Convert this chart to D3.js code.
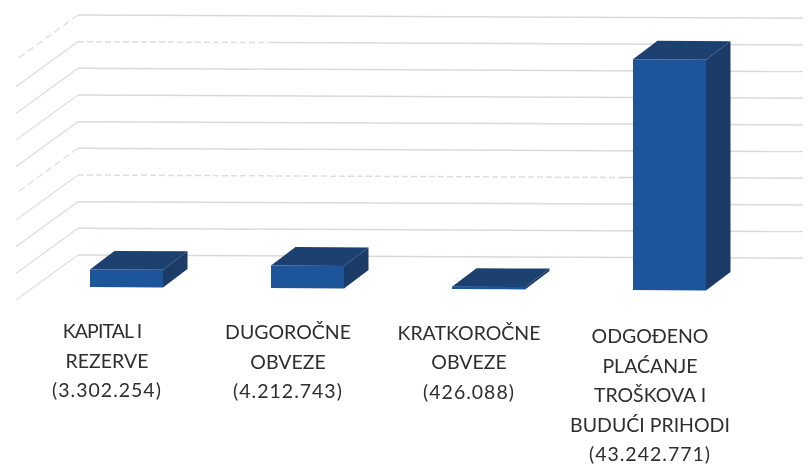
<!DOCTYPE html>
<html><head><meta charset="utf-8">
<script src="https://cdn.jsdelivr.net/npm/d3@7"></script>
<style>html,body{margin:0;padding:0;background:#fff}svg{display:block}</style>
</head><body><svg id="c" width="808" height="466"></svg>
<script>
const categories = ["KAPITAL I REZERVE","DUGOROČNE OBVEZE","KRATKOROČNE OBVEZE","ODGOĐENO PLAĆANJE TROŠKOVA I BUDUĆI PRIHODI"];
const values = [3302254, 4212743, 426088, 43242771];
const labelLines = [
  ["KAPITAL I","REZERVE","(3.302.254)"],
  ["DUGOROČNE","OBVEZE","(4.212.743)"],
  ["KRATKOROČNE","OBVEZE","(426.088)"],
  ["ODGOĐENO","PLAĆANJE","TROŠKOVA I","BUDUĆI PRIHODI","(43.242.771)"]
];
const gridTicks = [0,5e6,10e6,15e6,20e6,25e6,30e6,35e6,40e6,45e6];
const dashedBack = {15e6:620, 40e6:270};
const dashedSide = [20e6, 45e6];

const svg = d3.select("#c");
const defs = svg.append("defs");
defs.append("filter").attr("id","scan").attr("x","-5%").attr("y","-5%").attr("width","110%").attr("height","110%")
  .append("feGaussianBlur").attr("stdDeviation",0.45);
defs.append("filter").attr("id","scanText").attr("x","-5%").attr("y","-5%").attr("width","110%").attr("height","110%")
  .append("feGaussianBlur").attr("stdDeviation",0.3);
const W = 803, backX = 78, sideDx = -62, sideDy = 45, tilt = 0.0045, barTilt = 0.0055;
const y = d3.scaleLinear().domain([0,45e6]).range([0,240]);
const x = d3.scaleBand().domain(categories).range([90,814]);
const barW = 73, depthX = 24.5, depthY = 18.5;
const frontBase = px => 287 + (px-90)*barTilt;
const backBase = px => 255 + (px-78)*tilt;
const line = d3.line();

const gridG = svg.append("g").attr("fill","none").attr("stroke","#d9d9d9").attr("stroke-width",1.5).attr("filter","url(#scan)");
gridTicks.forEach(t=>{
  const yb = backBase(backX)-y(t);
  gridG.append("path").attr("d",line([[backX,yb],[backX+sideDx,yb+sideDy]]))
    .attr("stroke-dasharray",dashedSide.includes(t)?"7 4":null).attr("stroke","#e2e2e2");
  const end = dashedBack[t];
  if(end){
    gridG.append("path").attr("d",line([[backX,yb],[end,yb+(end-backX)*tilt]])).attr("stroke-dasharray","6 3").attr("stroke","#dedede");
    gridG.append("path").attr("d",line([[end,yb+(end-backX)*tilt],[W,yb+(W-backX)*tilt]]));
  } else {
    gridG.append("path").attr("d",line([[backX,yb],[W,yb+(W-backX)*tilt]]));
  }
});

const bars = svg.append("g").attr("filter","url(#scan)").selectAll("g").data(categories).join("g");
bars.each(function(c,i){
  const g = d3.select(this), x0 = x(c), x1 = x0+barW;
  const b0 = frontBase(x0), b1 = frontBase(x1), h = y(values[i]);
  g.append("path").attr("fill","#1b3a66").attr("d",line([[x1,b1],[x1+depthX,b1-depthY],[x1+depthX,b1-depthY-h],[x1,b1-h]])+"Z");
  g.append("path").attr("fill","#1c3f70").attr("d",line([[x0,b0-h],[x1,b1-h],[x1+depthX,b1-h-depthY],[x0+depthX,b0-h-depthY]])+"Z");
  g.append("path").attr("fill","#1f5499").attr("d",line([[x0,b0],[x1,b1],[x1,b1-h],[x0,b0-h]])+"Z");
});

const labelCenterShift = -19.5;
const labelTop = [338,339,339.5,343];
const labels = svg.append("g").attr("font-family","Lato, 'Open Sans', sans-serif").attr("font-size",19.5)
  .attr("fill","#2e2e2e").attr("text-anchor","middle").attr("filter","url(#scanText)");
labelLines.forEach((ls,i)=>{
  const cx = x(categories[i])+barW/2+labelCenterShift;
  ls.forEach((s,j)=>{
    const isFirst = s==="KAPITAL I";
    labels.append("text").attr("x",cx-(isFirst?5:0)).attr("y",labelTop[i]+j*29.6).text(s)
      .attr("letter-spacing",s.startsWith("(")?"1px":(isFirst?"-0.9px":null));
  });
});
</script></body></html>
